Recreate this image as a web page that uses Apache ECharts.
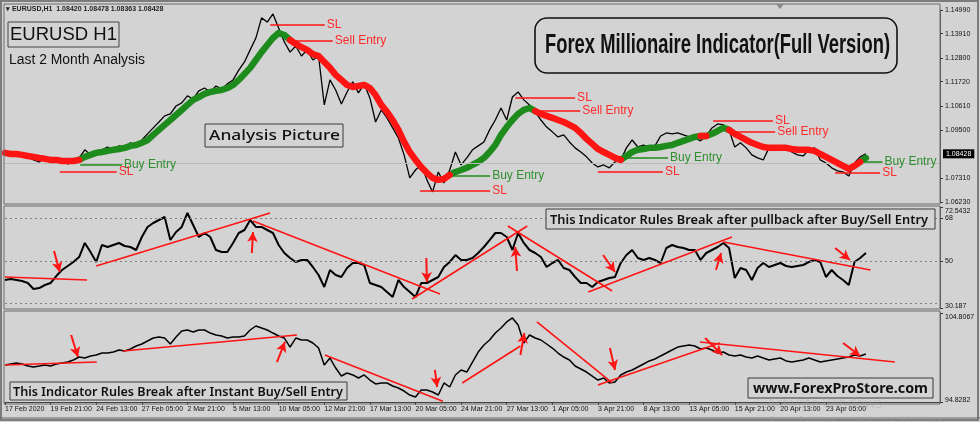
<!DOCTYPE html>
<html>
<head>
<meta charset="utf-8">
<script src="https://cdn.jsdelivr.net/npm/echarts@6/dist/echarts.min.js"></script>
<style>
  html, body { margin: 0; padding: 0; background: #d3d3d3; }
  #chart { width: 980px; height: 422px; }
</style>
</head>
<body>
<div id="chart"></div>
<script>
const chart = echarts.init(document.getElementById('chart'));

// one sample every 8 H1 bars
const barsPerLabel = 8;
const timeLabels = ['17 Feb 2020', '19 Feb 21:00', '24 Feb 13:00', '27 Feb 05:00', '2 Mar 21:00', '5 Mar 13:00',
  '10 Mar 05:00', '12 Mar 21:00', '17 Mar 13:00', '20 Mar 05:00', '24 Mar 21:00', '27 Mar 13:00', '1 Apr 05:00',
  '3 Apr 21:00', '8 Apr 13:00', '13 Apr 05:00', '15 Apr 21:00', '20 Apr 13:00', '23 Apr 05:00'];

const priceTicks = [1.0623, 1.0731, 1.0950, 1.1061, 1.1172, 1.1280, 1.1391, 1.1499];
const currentPrice = 1.08428;
const rsiTicks = [30.187, 50, 68, 72.5432];
const rsiLevels = [68, 50, 32];
const momTicks = [94.8282, 104.8067];

const priceClose = [1.0847,1.0842,1.0847,1.0838,1.0829,1.0815,1.0806,1.0824,1.0801,1.0815,
  1.0810,1.0797,1.0806,1.0824,1.0861,1.0838,1.0856,1.0861,1.0874,1.0861,
  1.0879,1.0874,1.0893,1.0879,1.0906,1.0934,1.0961,1.0988,1.1016,1.1025,
  1.1061,1.1075,1.1107,1.1093,1.1130,1.1143,1.1125,1.1152,1.1139,1.1162,
  1.1180,1.1225,1.1262,1.1317,1.1371,1.1463,1.1444,1.1481,1.1417,1.1353,
  1.1307,1.1335,1.1289,1.1317,1.1271,1.1289,1.1066,1.1180,1.1134,1.1070,
  1.1125,1.1171,1.1121,1.1162,1.1098,1.0988,1.1043,1.1007,1.0961,1.0915,
  1.0838,1.0733,1.0769,1.0792,1.0724,1.0669,1.0760,1.0710,1.0769,1.0851,
  1.0792,1.0824,1.0861,1.0879,1.0897,1.0952,1.0997,1.1052,1.0997,1.1102,
  1.1125,1.1089,1.1066,1.1034,1.0997,1.0965,1.0943,1.0920,1.0929,1.0897,
  1.0870,1.0851,1.0829,1.0801,1.0783,1.0792,1.0779,1.0806,1.0815,1.0870,
  1.0906,1.0874,1.0883,1.0874,1.0879,1.0924,1.0938,1.0934,1.0938,1.0929,
  1.0920,1.0915,1.0902,1.0924,1.0961,1.0979,1.0975,1.0952,1.0874,1.0893,
  1.0870,1.0838,1.0824,1.0815,1.0870,1.0861,1.0865,1.0870,1.0851,1.0838,
  1.0833,1.0861,1.0870,1.0815,1.0801,1.0779,1.0765,1.0760,1.0742,1.0801,
  1.0829,1.0843];

const signalLine = [1.0847,1.0842,1.0842,1.0838,1.0833,1.0829,1.0824,1.0820,1.0815,1.0815,
  1.0810,1.0810,1.0810,1.0815,1.0829,1.0838,1.0847,1.0851,1.0856,1.0861,
  1.0865,1.0870,1.0879,1.0883,1.0893,1.0906,1.0929,1.0952,1.0975,1.0997,
  1.1020,1.1043,1.1066,1.1089,1.1102,1.1116,1.1125,1.1130,1.1134,1.1143,
  1.1157,1.1180,1.1207,1.1235,1.1271,1.1307,1.1339,1.1371,1.1394,1.1385,
  1.1362,1.1344,1.1330,1.1317,1.1298,1.1289,1.1262,1.1235,1.1203,1.1180,
  1.1157,1.1148,1.1152,1.1157,1.1143,1.1111,1.1066,1.1034,1.0997,1.0952,
  1.0897,1.0851,1.0815,1.0783,1.0756,1.0733,1.0724,1.0728,1.0747,1.0760,
  1.0769,1.0779,1.0792,1.0806,1.0824,1.0851,1.0883,1.0929,1.0965,1.0997,
  1.1025,1.1043,1.1052,1.1038,1.1025,1.1016,1.1007,1.0997,1.0988,1.0975,
  1.0961,1.0938,1.0911,1.0888,1.0865,1.0851,1.0838,1.0824,1.0815,1.0833,
  1.0851,1.0861,1.0865,1.0870,1.0870,1.0874,1.0879,1.0883,1.0893,1.0902,
  1.0911,1.0920,1.0924,1.0924,1.0934,1.0947,1.0961,1.0952,1.0934,1.0920,
  1.0906,1.0893,1.0883,1.0874,1.0870,1.0870,1.0870,1.0870,1.0865,1.0861,
  1.0861,1.0861,1.0856,1.0842,1.0829,1.0815,1.0801,1.0788,1.0774,1.0788,
  1.0806,1.0824];

// [side, first sample, last sample]
const signalSides = [['sell', 0, 13], ['buy', 13, 50], ['sell', 50, 78], ['buy', 78, 93], ['sell', 93, 108],
  ['buy', 108, 122], ['sell', 122, 123], ['buy', 123, 127], ['sell', 127, 150], ['buy', 150, 151]];

const rsiValues = [41.93,42.35,41.93,41.51,40.67,38.15,38.57,39.83,40.67,43.60,
  46.12,47.80,49.48,51.57,57.45,53.67,49.48,56.61,55.77,56.61,
  57.45,56.19,55.77,54.51,59.96,64.16,65.83,67.09,68.35,58.70,
  62.06,64.16,70.03,64.99,59.96,61.64,59.96,54.51,53.67,53.67,
  57.45,61.64,62.90,67.09,64.16,64.16,62.90,61.64,56.61,53.25,
  51.15,49.48,50.32,50.32,47.38,44.02,38.99,46.12,44.02,43.19,
  46.96,49.06,49.06,48.22,40.67,39.83,38.99,36.90,34.80,41.93,
  38.99,36.90,34.80,40.67,40.67,41.93,43.19,47.38,49.48,52.41,
  50.32,50.32,51.15,53.25,55.77,58.70,61.64,61.64,59.96,54.51,
  61.64,57.45,54.51,53.25,51.57,47.38,49.06,50.32,46.96,46.12,
  43.19,40.67,40.67,38.99,41.09,41.93,42.77,43.19,49.06,52.41,
  54.51,51.15,50.32,51.15,50.32,49.06,55.35,56.61,55.77,55.35,
  54.51,54.51,50.32,53.25,54.51,55.77,57.45,55.35,42.77,46.96,
  46.12,41.93,46.96,49.06,47.38,48.22,49.06,47.80,47.38,47.80,
  48.22,49.48,50.32,49.48,43.19,46.12,43.60,41.93,39.83,49.48,
  51.15,53.25];

const momValues = [98.98,99.09,99.20,99.09,98.86,98.75,98.86,98.98,98.86,99.09,
  99.20,99.31,99.54,99.87,99.76,99.99,100.10,100.32,100.32,100.43,
  100.66,100.55,100.77,101.11,101.33,101.67,102.00,102.12,102.00,101.33,
  102.12,102.79,102.90,102.68,102.90,102.90,102.56,102.34,102.23,102.00,
  102.12,102.12,102.23,102.90,103.35,103.13,102.90,102.56,102.23,102.00,
  100.99,102.00,101.78,101.78,101.44,100.88,98.98,99.76,98.64,97.74,
  98.08,97.86,97.52,97.86,97.29,96.85,96.96,96.96,96.62,96.40,
  96.06,95.61,95.39,96.17,96.17,95.95,95.61,96.96,96.51,97.86,
  98.42,98.19,99.31,100.43,101.22,101.78,102.56,103.13,103.80,104.25,
  103.46,101.44,102.34,102.00,101.78,101.33,100.88,100.32,99.87,99.54,
  98.86,98.53,98.19,97.74,97.29,97.52,96.96,97.07,97.86,98.19,
  98.42,98.75,99.09,99.43,99.65,99.99,100.32,100.66,100.99,101.11,
  101.22,101.11,100.77,100.88,100.66,100.32,100.43,100.10,99.99,100.10,
  99.87,99.76,99.99,99.76,99.54,99.65,99.76,99.43,99.31,99.43,
  99.54,99.76,99.54,99.31,99.43,99.54,99.65,99.76,99.87,100.10,
  99.99,100.21];

// [label, from sample, to sample, price]
const entryMarks = [
  ['Buy Entry', 13.2, 20.5, 1.0792], ['SL', 9.6, 19.6, 1.0760],
  ['SL', 46.5, 56.1, 1.1431], ['Sell Entry', 50, 57.5, 1.1358],
  ['Buy Entry', 78.1, 85.1, 1.0742], ['SL', 72.8, 85.1, 1.0674],
  ['SL', 89.5, 100, 1.1098], ['Sell Entry', 93.3, 100.9, 1.1038],
  ['Buy Entry', 108.4, 116.3, 1.0824], ['SL', 104, 115.4, 1.0760],
  ['SL', 124.2, 134.7, 1.0993], ['Sell Entry', 127.2, 135.1, 1.0943],
  ['Buy Entry', 150.5, 153.9, 1.0806], ['SL', 145.6, 153.5, 1.0756]
];

// [x1, y1, x2, y2] in samples / indicator units
const rsiTrendLines = [[0, 43.19, 14.4, 41.93], [16.0, 47.80, 46.5, 70.03], [43.5, 66.67, 76.3, 36.06],
  [71.4, 33.96, 91.6, 64.58], [88.2, 64.58, 106.5, 37.31], [102.3, 36.90, 127.5, 59.96], [126.0, 57.87, 151.8, 46.12]];
const rsiArrows = [[8.6, 54.09, 9.6, 45.28], [43.3, 53.25, 43.5, 62.06], [73.9, 51.15, 74.0, 41.09],
  [89.8, 45.70, 89.5, 55.77], [104.9, 52.41, 107.0, 45.28], [124.7, 46.12, 125.6, 53.25], [145.6, 55.35, 148.2, 50.32]];
const momTrendLines = [[0, 98.98, 16.1, 99.31], [20.7, 100.55, 51.2, 102.34], [56.1, 100.10, 76.8, 94.9],
  [80.2, 96.96, 90.4, 101.11], [93.3, 103.80, 106.5, 96.96], [104.0, 96.73, 125.4, 101.44], [121.9, 101.56, 156.1, 99.31]];
const momArrows = [[11.6, 102.34, 12.8, 99.87], [47.7, 99.31, 49.1, 101.56], [75.4, 98.42, 75.8, 96.51],
  [90.4, 100.10, 91.1, 102.56], [106.1, 100.88, 107.0, 98.42], [122.8, 102.00, 125.8, 100.10], [147.0, 101.44, 150.0, 99.99]];

const RED = '#ff1414';
const GREEN = '#1d8c1d';
const BG = '#d3d3d3';
const AXIS_FONT = { fontSize: 7, fontFamily: 'Liberation Sans', color: '#111' };
// MT4 draws the top/bottom scale values just inside the panel
const EDGE_RICH = {
  dn: { fontSize: 7, fontFamily: 'Liberation Sans', color: '#111', padding: [8, 0, 0, 0] },
  up: { fontSize: 7, fontFamily: 'Liberation Sans', color: '#111', padding: [0, 0, 4, 0] }
};

const pairs = arr => arr.map((v, i) => [i, v]);

function sideData(side) {
  const out = signalLine.map((v, i) => [i, '-']);
  signalSides.forEach(([s, a, b]) => {
    if (s !== side) return;
    for (let i = a; i <= b; i++) out[i] = [i, signalLine[i]];
  });
  return out;
}

function segItem(a, arrow) {
  return [
    { coord: [a[0], a[1]], symbol: 'none', lineStyle: { color: RED, width: arrow ? 2 : 1.6, type: 'solid' } },
    { coord: [a[2], a[3]], symbol: arrow ? 'arrow' : 'none', symbolSize: arrow ? [8, 10] : 0 }
  ];
}

const entryItems = entryMarks.map(([name, x1, x2, p]) => {
  const c = name === 'Buy Entry' ? GREEN : RED;
  return [
    {
      coord: [x1, p], symbol: 'none', lineStyle: { color: c, width: 1.5, type: 'solid' },
      label: { show: true, position: 'end', formatter: name, distance: 2, color: name === 'Buy Entry' ? '#2f8f2f' : '#ff2a2a',
        fontSize: 12, fontFamily: 'Liberation Sans' }
    },
    { coord: [x2, p], symbol: 'none' }
  ];
});

const measureCtx = document.createElement('canvas').getContext('2d');
function fitScale(text, font, width) {
  measureCtx.font = font;
  return width / measureCtx.measureText(text).width;
}

function fitText(text, font, x, y, width, extra) {
  return Object.assign({
    type: 'text', x, y, scaleX: fitScale(text, font, width), z: 101, silent: true,
    style: { text, font, fill: '#111', verticalAlign: 'middle' }
  }, extra || {});
}

function box(x, y, w, h, extra) {
  return Object.assign({
    type: 'rect', z: 100, silent: true, shape: { x, y, width: w, height: h },
    style: { fill: BG, stroke: '#3a3a3a', lineWidth: 1 }
  }, extra || {});
}

const labelPositions = timeLabels.map((_, k) => k * barsPerLabel);

const markBase = { silent: true, animation: false, symbol: ['none', 'none'], label: { show: false }, emphasis: { disabled: true } };

function edgeFmt(min, max, fmt) {
  return v => v === max ? '{dn|' + fmt(v) + '}' : v === min ? '{up|' + fmt(v) + '}' : fmt(v);
}

const option = {
  backgroundColor: BG,
  animation: false,
  grid: [
    { left: 5, right: 40, top: 10, height: 192 },
    { left: 5, right: 40, top: 207, height: 101 },
    { left: 5, right: 40, top: 313, height: 89 }
  ],
  xAxis: [0, 1, 2].map(g => ({
    type: 'value', gridIndex: g, min: 0, max: 164, show: g === 2,
    splitLine: { show: false },
    axisLine: { onZero: false, lineStyle: { color: '#444' } },
    axisTick: { customValues: labelPositions, length: 3, lineStyle: { color: '#333' } },
    axisLabel: Object.assign({
      customValues: labelPositions, align: 'left', margin: 4, hideOverlap: false,
      formatter: v => timeLabels[Math.round(v / barsPerLabel)]
    }, AXIS_FONT)
  })),
  yAxis: [
    { gridIndex: 0, min: 1.0623, max: 1.1499, ticks: priceTicks, fmt: v => v.toFixed(5) },
    { gridIndex: 1, min: 30.187, max: 72.5432, ticks: rsiTicks, fmt: edgeFmt(30.187, 72.5432, v => String(v)) },
    { gridIndex: 2, min: 94.8282, max: 104.8067, ticks: momTicks, fmt: edgeFmt(94.8282, 104.8067, v => String(v)) }
  ].map(a => ({
    type: 'value', gridIndex: a.gridIndex, position: 'right', min: a.min, max: a.max,
    splitLine: { show: false },
    axisLine: { show: true, onZero: false, lineStyle: { color: '#555' } },
    axisTick: { customValues: a.ticks, length: 3, lineStyle: { color: '#333' } },
    axisLabel: Object.assign({ customValues: a.ticks, formatter: a.fmt, margin: 5, hideOverlap: false, rich: EDGE_RICH }, AXIS_FONT)
  })).concat([{
    type: 'value', gridIndex: 0, position: 'right', min: 1.0623, max: 1.1499,
    splitLine: { show: false }, axisLine: { show: false, onZero: false }, axisTick: { show: false },
    axisLabel: {
      customValues: [currentPrice], formatter: v => v.toFixed(5), margin: 3,
      fontSize: 7, fontFamily: 'Liberation Sans', color: '#fff', backgroundColor: '#000', padding: [1, 3, 1, 3]
    }
  }]),
  series: [
    {
      name: 'EURUSD', type: 'line', xAxisIndex: 0, yAxisIndex: 0, data: pairs(priceClose),
      showSymbol: false, z: 3, lineStyle: { color: '#000', width: 1.3 },
      markLine: Object.assign({}, markBase, {
        data: [{ yAxis: currentPrice, lineStyle: { color: '#bcbcbc', width: 1, type: 'solid' } }].concat(entryItems)
      })
    },
    {
      name: 'Buy trend', type: 'line', xAxisIndex: 0, yAxisIndex: 0, data: sideData('buy'),
      showSymbol: false, z: 4, lineStyle: { color: GREEN, width: 6.5, cap: 'round', join: 'round' }
    },
    {
      name: 'Sell trend', type: 'line', xAxisIndex: 0, yAxisIndex: 0, data: sideData('sell'),
      showSymbol: false, z: 5, lineStyle: { color: RED, width: 6.5, cap: 'round', join: 'round' }
    },
    {
      name: 'Oscillator', type: 'line', xAxisIndex: 1, yAxisIndex: 1, data: pairs(rsiValues),
      showSymbol: false, z: 3, lineStyle: { color: '#000', width: 2 },
      markLine: Object.assign({}, markBase, {
        data: rsiLevels.map(l => ({ yAxis: l, lineStyle: { color: '#808080', width: 1, type: [2, 3] } }))
          .concat(rsiTrendLines.map(a => segItem(a, false)))
          .concat(rsiArrows.map(a => segItem(a, true)))
      })
    },
    {
      name: 'Momentum', type: 'line', xAxisIndex: 2, yAxisIndex: 2, data: pairs(momValues),
      showSymbol: false, z: 3, lineStyle: { color: '#000', width: 1.5 },
      markLine: Object.assign({}, markBase, {
        data: momTrendLines.map(a => segItem(a, false)).concat(momArrows.map(a => segItem(a, true)))
      })
    }
  ],
  graphic: [
    { type: 'rect', silent: true, z: 90, shape: { x: 1, y: 1, width: 977, height: 419 }, style: { fill: 'none', stroke: '#7c7c7c', lineWidth: 2 } },
    { type: 'rect', silent: true, z: 90, shape: { x: 4, y: 4, width: 936, height: 200 }, style: { fill: 'none', stroke: '#6a6a6a', lineWidth: 1 } },
    { type: 'rect', silent: true, z: 90, shape: { x: 4, y: 206, width: 936, height: 103 }, style: { fill: 'none', stroke: '#6a6a6a', lineWidth: 1 } },
    { type: 'rect', silent: true, z: 90, shape: { x: 4, y: 311, width: 936, height: 93 }, style: { fill: 'none', stroke: '#6a6a6a', lineWidth: 1 } },
    { type: 'line', silent: true, z: 90, shape: { x1: 0, y1: 418, x2: 980, y2: 418 }, style: { stroke: '#666', lineWidth: 1 } },
    { type: 'polygon', silent: true, z: 90, shape: { points: [[776, 4], [784, 4], [780, 9]] }, style: { fill: '#8a8a8a' } },
    { type: 'text', silent: true, z: 101, x: 6, y: 9,
      style: { text: '\u25BE EURUSD,H1  1.08420 1.08478 1.08363 1.08428', font: 'bold 7px "Liberation Sans"', fill: '#222', verticalAlign: 'middle' } },
    box(8, 22, 111, 25, { style: { fill: 'none', stroke: '#444', lineWidth: 1 } }),
    fitText('EURUSD H1', '19px "Liberation Sans"', 10, 35, 107),
    fitText('Last 2 Month Analysis', '14px "Liberation Sans"', 9, 60, 136),
    box(205, 124, 138, 23),
    fitText('Analysis Picture', '500 15px "Noto Sans"', 209, 136, 131),
    box(535, 18, 362, 55, { shape: { x: 535, y: 18, width: 362, height: 55, r: 12 }, style: { fill: BG, stroke: '#111', lineWidth: 1.6 } }),
    fitText('Forex Millionaire Indicator(Full Version)', 'bold 28px "Liberation Sans", sans-serif', 545, 45, 345),
    box(546, 209, 389, 20),
    fitText('This Indicator Rules Break after pullback after Buy/Sell Entry', '600 12.5px "Noto Sans"', 550, 220, 378),
    box(10, 382, 337, 18),
    fitText('This Indicator Rules Break after Instant Buy/Sell Entry', '600 12.5px "Noto Sans"', 13, 392, 330),
    box(748, 378, 185, 20),
    fitText('www.ForexProStore.com', 'bold 14px "Noto Sans"', 753, 389, 175),
    { type: 'text', silent: true, z: 102, x: 767, y: 404,
      style: { text: 'Activate Windows', font: '14px "Open Sans"', fill: 'rgba(160,160,160,0.35)', verticalAlign: 'middle' } },
    { type: 'text', silent: true, z: 102, x: 767, y: 421,
      style: { text: 'Go to Settings to activate Windows.', font: '11px "Open Sans"', fill: 'rgba(160,160,160,0.35)', verticalAlign: 'middle' } }
  ]
};

chart.setOption(option);
window.addEventListener('resize', () => chart.resize());
</script>
</body>
</html>
